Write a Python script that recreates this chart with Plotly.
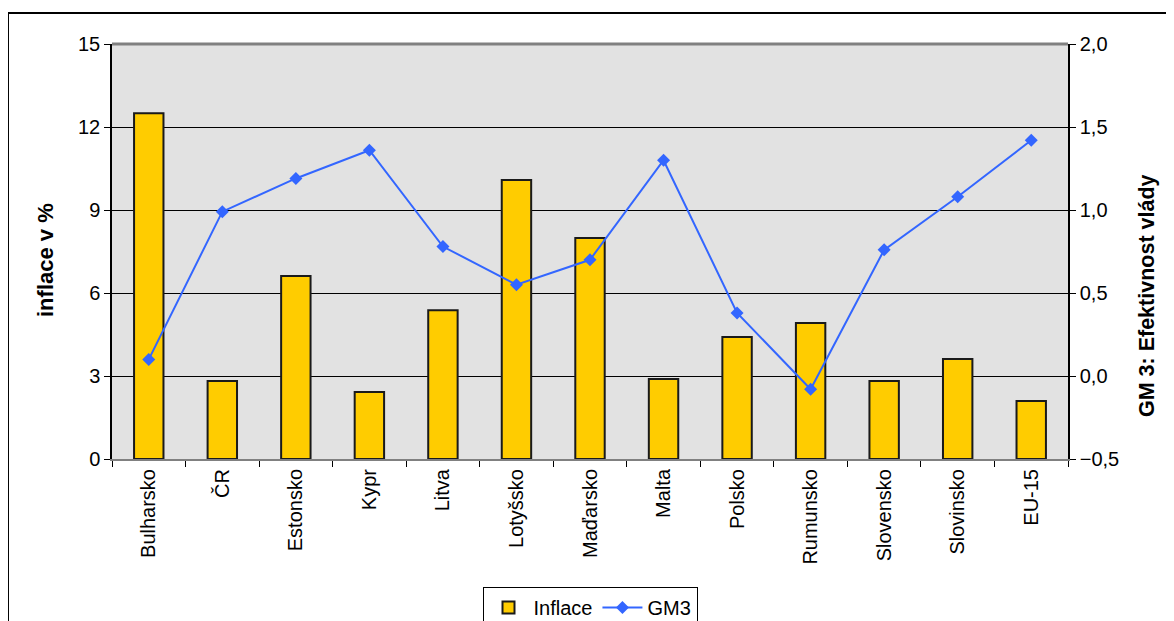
import plotly.graph_objects as go

countries = ["Bulharsko", "ČR", "Estonsko", "Kypr", "Litva", "Lotyšsko", "Maďarsko",
             "Malta", "Polsko", "Rumunsko", "Slovensko", "Slovinsko", "EU-15"]
inflace = [12.5, 2.82, 6.61, 2.42, 5.38, 10.08, 7.99, 2.89, 4.41, 4.92, 2.82, 3.61, 2.10]
gm3 = [0.10, 0.99, 1.19, 1.36, 0.78, 0.55, 0.70, 1.30, 0.38, -0.08, 0.76, 1.08, 1.42]

font_family = "Liberation Sans, Arial, sans-serif"

fig = go.Figure()
fig.add_trace(go.Bar(
    x=countries, y=inflace, name="Inflace",
    marker=dict(color="#FFCC00", line=dict(color="#1a1a1a", width=2)),
    yaxis="y",
))
fig.add_trace(go.Scatter(
    x=countries, y=gm3, name="GM3", mode="lines+markers",
    line=dict(color="#3366FF", width=2),
    marker=dict(symbol="diamond", size=10, color="#3366FF"),
    yaxis="y2",
))

fig.update_layout(
    width=1166, height=613,
    margin=dict(l=104, r=106, t=36, b=162, autoexpand=False),
    paper_bgcolor="white",
    plot_bgcolor="#e2e2e2",
    separators=", ",
    font=dict(family=font_family, size=20, color="black"),
    bargap=0.6,
    showlegend=True,
    legend=dict(
        orientation="h", x=0.5, xanchor="center",
        yref="container", y=1 - 579 / 613, yanchor="top",
        bordercolor="black", borderwidth=1, bgcolor="white",
        font=dict(size=20), itemwidth=40, tracegroupgap=0,
    ),
    xaxis=dict(
        type="category", range=[-0.5, len(countries) - 0.5],
        tickangle=-90, tickson="boundaries",
        ticks="outside", ticklen=6, tickcolor="black",
        showline=True, linecolor="#808080", linewidth=2,
        showgrid=False, tickfont=dict(size=20), automargin=False,
    ),
    yaxis=dict(
        range=[0, 15], dtick=3, tick0=0,
        ticks="outside", ticklen=6, tickcolor="black",
        showline=True, linecolor="black", linewidth=1.5,
        showgrid=True, gridcolor="black", gridwidth=1,
        zeroline=False, tickfont=dict(size=20), automargin=False,
    ),
    yaxis2=dict(
        range=[-0.5, 2.0], dtick=0.5, tick0=-0.5, tickformat=".1f",
        overlaying="y", side="right",
        ticks="outside", ticklen=6, tickcolor="black",
        showline=True, linecolor="black", linewidth=1.5,
        showgrid=False, zeroline=False, tickfont=dict(size=20), automargin=False,
    ),
    annotations=[
        dict(text="<b>inflace v %</b>", xref="paper", yref="paper",
             x=-0.0701, y=0.4795, xanchor="center", yanchor="middle",
             textangle=-90, showarrow=False, font=dict(size=22)),
        dict(text="<b>GM 3: Efektivnost vlády</b>", xref="paper", yref="paper",
             x=1.0826, y=0.395, xanchor="center", yanchor="middle",
             textangle=-90, showarrow=False, font=dict(size=21.5)),
    ],
    shapes=[
        dict(type="rect", xref="paper", yref="paper", x0=-0.1088, x1=1.3, y0=-0.6, y1=1.0747,
             line=dict(color="black", width=2), fillcolor="rgba(0,0,0,0)", layer="above"),
        dict(type="line", xref="paper", yref="paper", x0=0, x1=1, y0=1, y1=1,
             line=dict(color="#808080", width=3), layer="above"),
    ],
)

fig.write_html("out.html")
